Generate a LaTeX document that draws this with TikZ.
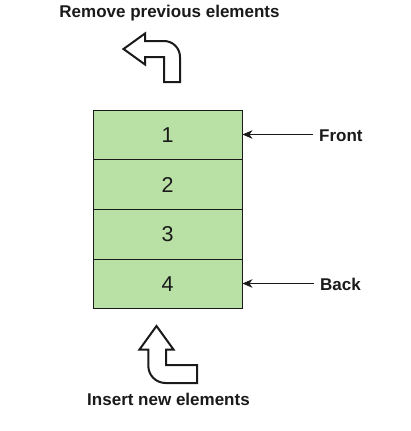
\documentclass[tikz,border=0pt]{standalone}
\usepackage{fontspec}
\setmainfont{Liberation Sans}
\usetikzlibrary{arrows.meta}
\definecolor{cellgreen}{HTML}{B9E0A5}
\definecolor{ink}{HTML}{1A1A1A}
\tikzset{
  cell/.style={draw=ink, line width=0.9pt, fill=cellgreen, minimum width=149pt, minimum height=49.6pt, inner sep=0pt, font=\fontsize{21.5}{21.5}\selectfont, text=ink},
  lbl/.style={font=\fontsize{17}{17}\selectfont\bfseries, text=ink, inner sep=0pt},
  pointer/.style={draw=ink, line width=1.1pt, -{Stealth[length=10pt,width=8.5pt,inset=3pt]}},
  bigarrow/.style={draw=ink, line width=2pt, fill=white, line join=miter}
}
\begin{document}
\begin{tikzpicture}[x=1pt,y=-1pt]
\useasboundingbox (0,0) rectangle (410,431);
\fill[white] (0,0) rectangle (410,431);
% cells
\node[cell] (c1) at (167.5,135.0) {1};
\node[cell] (c2) at (167.5,184.6) {2};
\node[cell] (c3) at (167.5,234.2) {3};
\node[cell] (c4) at (167.5,283.8) {4};
% labels
\node[lbl, anchor=base west] (front) at (319,141.5) {Front};
\node[lbl, anchor=base west] (back) at (320,290.5) {Back};
\coordinate (fs) at (313,134.5);
\coordinate (bs) at (314,283.5);
\draw[pointer] (fs) -- (c1.east |- fs);
\draw[pointer] (bs) -- (c4.east |- bs);
% titles
\node[lbl, anchor=base] (title) at (169.5,17.5) {Remove previous elements};
\node[lbl, anchor=base] (bottom) at (168.5,405) {Insert new elements};
% remove arrow (top)
\draw[bigarrow] (123.5,49) -- (145,33.5) -- (145,41) -- (164,41)
  arc[start angle=-90, end angle=0, radius=16] -- (180,82) -- (164,82) -- (164,57)
  -- (145,57) -- (145,64.5) -- cycle;
% insert arrow (bottom)
\draw[bigarrow] (156.5,326) -- (173.5,349.5) -- (166,349.5) -- (166,365) -- (197,365)
  -- (197,383) -- (165.5,383) arc[start angle=90, end angle=180, radius=17.2]
  -- (148.3,349.5) -- (139.5,349.5) -- cycle;
\end{tikzpicture}
\end{document}
